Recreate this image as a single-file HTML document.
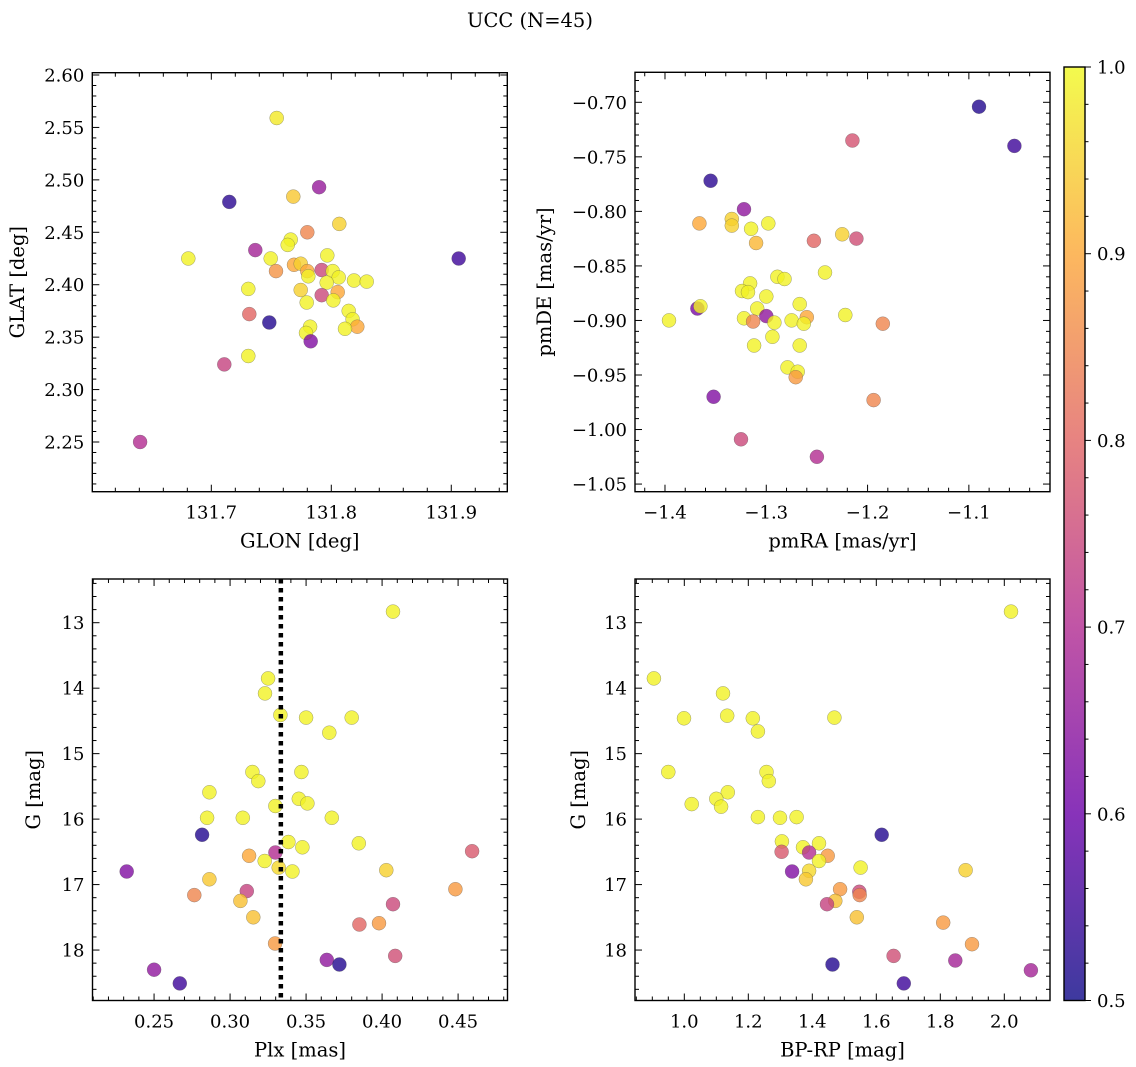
<!DOCTYPE html>
<html><head><meta charset="utf-8"><style>
html,body{margin:0;padding:0;background:#fff;}
svg{display:block;font-family:"DejaVu Serif","Liberation Serif",serif;}
</style></head><body>
<svg id="fig" width="1136" height="1067" viewBox="0 0 1136 1067" xmlns="http://www.w3.org/2000/svg">
<defs>
<linearGradient id="plasma" x1="0" y1="1" x2="0" y2="0">
<stop offset="0" stop-color="#0d0887"/><stop offset="0.2" stop-color="#6a00a8"/><stop offset="0.4" stop-color="#b12a90"/><stop offset="0.6" stop-color="#e16462"/><stop offset="0.8" stop-color="#fca636"/><stop offset="1" stop-color="#f0f921"/>
</linearGradient>
</defs>
<text x="530" y="27" font-size="19.5" text-anchor="middle">UCC (N=45)</text>
</svg>
<script>
// Panel 1: GLON / GLAT / membership probability
const p1Lon=[131.7545,131.7898,131.715,131.7683,131.8067,131.78,131.7662,131.7637,131.7367,131.6808,131.9062,131.7495,131.7967,131.7539,131.7689,131.7745,131.78,131.7808,131.792,131.8012,131.8062,131.7962,131.8189,131.8295,131.7308,131.7745,131.8053,131.792,131.7795,131.8017,131.8145,131.7317,131.7483,131.8178,131.8217,131.8114,131.7823,131.7789,131.7828,131.7308,131.7108,131.6406];
const p1Lat=[2.559,2.493,2.479,2.484,2.458,2.450,2.443,2.438,2.433,2.425,2.425,2.425,2.428,2.413,2.419,2.420,2.413,2.408,2.414,2.413,2.407,2.402,2.404,2.403,2.396,2.395,2.393,2.390,2.383,2.385,2.375,2.372,2.364,2.367,2.360,2.358,2.360,2.354,2.346,2.332,2.324,2.250];
const p1Prob=[0.98,0.66,0.53,0.94,0.95,0.85,0.99,0.99,0.68,0.99,0.55,0.99,0.99,0.87,0.9,0.95,0.9,0.99,0.75,0.99,0.99,0.99,0.99,0.99,0.99,0.95,0.9,0.75,0.99,0.99,0.99,0.8,0.52,0.99,0.9,0.99,0.99,0.99,0.63,0.99,0.74,0.7];
// Panel 2: pmRA / pmDE
const p2Ra=[-1.322,-1.366,-1.334,-1.334,-1.315,-1.298,-1.310,-1.253,-1.225,-1.211,-1.242,-1.289,-1.282,-1.316,-1.324,-1.318,-1.300,-1.368,-1.365,-1.267,-1.309,-1.396,-1.322,-1.313,-1.300,-1.292,-1.275,-1.260,-1.263,-1.222,-1.185,-1.294,-1.312,-1.267,-1.279,-1.269,-1.271,-1.352,-1.194,-1.090,-1.055,-1.215,-1.355,-1.325,-1.250];
const p2De=[-0.798,-0.811,-0.807,-0.813,-0.816,-0.811,-0.829,-0.827,-0.821,-0.825,-0.856,-0.860,-0.862,-0.866,-0.873,-0.874,-0.878,-0.889,-0.887,-0.885,-0.889,-0.900,-0.898,-0.901,-0.896,-0.902,-0.900,-0.897,-0.903,-0.895,-0.903,-0.915,-0.923,-0.923,-0.943,-0.947,-0.952,-0.970,-0.973,-0.704,-0.740,-0.735,-0.772,-1.009,-1.025];
const p2Prob=[0.65,0.9,0.95,0.95,0.99,0.99,0.92,0.8,0.95,0.76,0.99,0.99,0.99,0.99,0.99,0.99,0.99,0.62,0.99,0.99,0.99,0.99,0.99,0.85,0.65,0.99,0.99,0.9,0.99,0.99,0.85,0.99,0.99,0.99,0.99,0.99,0.88,0.63,0.85,0.52,0.55,0.77,0.53,0.75,0.7];
// Panel 3: Plx / G
const p3Plx=[0.4072,0.325,0.323,0.3331,0.35,0.380,0.3653,0.3147,0.3186,0.3469,0.2864,0.3298,0.3452,0.3509,0.2849,0.3084,0.3669,0.2816,0.3384,0.3476,0.3847,0.3298,0.3125,0.3228,0.332,0.341,0.4028,0.4592,0.232,0.2864,0.311,0.2765,0.4482,0.3068,0.4072,0.3153,0.3851,0.398,0.3296,0.3636,0.3719,0.4086,0.25,0.2669];
const p3G=[12.83,13.85,14.08,14.41,14.45,14.45,14.68,15.28,15.42,15.28,15.59,15.80,15.69,15.76,15.98,15.98,15.98,16.24,16.35,16.43,16.37,16.51,16.56,16.64,16.74,16.80,16.78,16.49,16.80,16.92,17.10,17.16,17.07,17.25,17.30,17.50,17.61,17.59,17.90,18.15,18.22,18.09,18.30,18.51];
const p3Prob=[0.99,0.99,0.99,0.99,0.99,0.99,0.99,0.99,0.99,0.99,0.99,0.99,0.99,0.99,0.99,0.99,0.99,0.52,0.99,0.99,0.99,0.7,0.9,0.99,0.96,0.99,0.95,0.78,0.63,0.94,0.74,0.85,0.88,0.93,0.75,0.93,0.8,0.88,0.88,0.65,0.52,0.76,0.65,0.55];
// Panel 4: BP-RP / G
const p4Col=[2.021,0.905,1.121,0.999,1.134,1.214,1.230,1.469,0.950,1.257,1.264,1.136,1.100,1.115,1.023,1.230,1.299,1.351,1.617,1.305,1.371,1.421,1.304,1.390,1.448,1.421,1.551,1.390,1.337,1.380,1.879,1.487,1.547,1.548,1.472,1.446,1.539,1.809,1.899,1.654,1.847,1.463,1.686,2.083];
const p4G=[12.83,13.85,14.08,14.46,14.42,14.46,14.66,14.45,15.28,15.28,15.42,15.59,15.69,15.81,15.77,15.97,15.98,15.97,16.24,16.34,16.43,16.37,16.50,16.51,16.56,16.64,16.74,16.79,16.80,16.92,16.78,17.07,17.11,17.16,17.25,17.30,17.50,17.58,17.91,18.09,18.16,18.22,18.51,18.31];
const p4Prob=[0.99,0.99,0.99,0.99,0.99,0.99,0.99,0.99,0.99,0.99,0.99,0.99,0.99,0.99,0.99,0.99,0.99,0.99,0.52,0.99,0.99,0.99,0.78,0.7,0.88,0.99,0.99,0.96,0.63,0.94,0.95,0.88,0.75,0.85,0.93,0.74,0.93,0.88,0.88,0.76,0.68,0.52,0.55,0.68];
const plxLine=[0.3334];
const cbTicks=[0.5,0.6,0.7,0.8,0.9,1.0];

const NS="http://www.w3.org/2000/svg";
const svg=document.getElementById('fig');
function mk(tag,attrs,parent){const e=document.createElementNS(NS,tag);for(const k in attrs)e.setAttribute(k,attrs[k]);(parent||svg).appendChild(e);return e;}
const stops=[[0,[13,8,135]],[0.2,[106,0,168]],[0.4,[177,42,144]],[0.6,[225,100,98]],[0.8,[252,166,54]],[1,[240,249,33]]];
function plasma(p){let t=Math.max(0,Math.min(1,(p-0.5)/0.5));for(let i=1;i<stops.length;i++){if(t<=stops[i][0]){const a=stops[i-1],b=stops[i];const f=(t-a[0])/(b[0]-a[0]);const c=a[1].map((v,j)=>Math.round(v+(b[1][j]-v)*f));return 'rgb('+c.join(',')+')';}}return 'rgb(240,249,33)';}
function fmt(v,d){let s=v.toFixed(d);if(v<0)s='\u2212'+s.slice(1);return s;}

function panel(cfg){
  const g=mk('g',{});
  
  
  const X=v=>cfg.px0+(v-cfg.x0)/(cfg.x1-cfg.x0)*(cfg.px1-cfg.px0);
  const Y=v=>cfg.inv? cfg.py0+(v-cfg.y0)/(cfg.y1-cfg.y0)*(cfg.py1-cfg.py0) : cfg.py1-(v-cfg.y0)/(cfg.y1-cfg.y0)*(cfg.py1-cfg.py0);
  for(let i=0;i<cfg.xs.length;i++){
    const c=mk('circle',{cx:X(cfg.xs[i]).toFixed(1),cy:Y(cfg.ys[i]).toFixed(1),r:7,fill:plasma(cfg.ps[i]),'fill-opacity':0.8,stroke:'#555','stroke-width':0.4,'stroke-opacity':0.7},g);
    
    
  }
  if(cfg.vline){const vx=X(cfg.vline);const l=mk('line',{x1:vx,x2:vx,y1:cfg.py0,y2:cfg.py1,stroke:'#000','stroke-width':4.5,'stroke-dasharray':'4.5 4.5'},g);
    
    }
  const tk=mk('g',{stroke:'#000','stroke-width':1},g);
  const eps=1e-9;
  const xmin=Math.min(cfg.x0,cfg.x1),xmax=Math.max(cfg.x0,cfg.x1);
  for(let v=Math.ceil(xmin/cfg.xmin-eps)*cfg.xmin;v<=xmax+eps;v+=cfg.xmin){
    const x=X(v);const major=Math.abs(v/cfg.xmaj-Math.round(v/cfg.xmaj))<1e-6;const L=major?7:4;
    mk('line',{x1:x,x2:x,y1:cfg.py1,y2:cfg.py1-L},tk);mk('line',{x1:x,x2:x,y1:cfg.py0,y2:cfg.py0+L},tk);
    if(major){const t=mk('text',{x:x,y:cfg.py1+27,'font-size':18,'text-anchor':'middle',stroke:'none',fill:'#000'},g);t.textContent=fmt(v,cfg.xd);
      
      }
  }
  const ymin=Math.min(cfg.y0,cfg.y1),ymax=Math.max(cfg.y0,cfg.y1);
  for(let v=Math.ceil(ymin/cfg.ymin-eps)*cfg.ymin;v<=ymax+eps;v+=cfg.ymin){
    const y=Y(v);const major=Math.abs(v/cfg.ymaj-Math.round(v/cfg.ymaj))<1e-6;const L=major?7:4;
    mk('line',{x1:cfg.px0,x2:cfg.px0+L,y1:y,y2:y},tk);mk('line',{x1:cfg.px1,x2:cfg.px1-L,y1:y,y2:y},tk);
    if(major){const t=mk('text',{x:cfg.px0-8,y:y+6.5,'font-size':18,'text-anchor':'end',stroke:'none',fill:'#000'},g);t.textContent=fmt(v,cfg.yd);
      
      }
  }
  const fr=mk('rect',{x:cfg.px0,y:cfg.py0,width:cfg.px1-cfg.px0,height:cfg.py1-cfg.py0,fill:'none',stroke:'#000','stroke-width':1.4},g);
  
  
  const xl=mk('text',{x:(cfg.px0+cfg.px1)/2,y:cfg.py1+56,'font-size':19.5,'text-anchor':'middle'},g);xl.textContent=cfg.xlabel;
  
  
  const yx=cfg.ylx,yy=(cfg.py0+cfg.py1)/2;
  const yl=mk('text',{x:yx,y:yy,'font-size':19.5,'text-anchor':'middle',transform:'rotate(-90 '+yx+' '+yy+')'},g);yl.textContent=cfg.ylabel;
  
  
}

panel({name:'glon-glat-panel',xs:p1Lon,ys:p1Lat,ps:p1Prob,px0:92.3,px1:507.3,py0:72.7,py1:491.7,x0:131.6008,x1:131.9467,y0:2.2026,y1:2.6022,xmaj:0.1,xmin:0.02,ymaj:0.05,ymin:0.01,xd:1,yd:2,xlabel:'GLON [deg]',ylabel:'GLAT [deg]',ylx:24});
panel({name:'proper-motion-panel',xs:p2Ra,ys:p2De,ps:p2Prob,px0:635,px1:1050,py0:72.3,py1:491.7,x0:-1.4296,x1:-1.0199,y0:-1.057,y1:-0.6725,xmaj:0.1,xmin:0.02,ymaj:0.05,ymin:0.01,xd:1,yd:2,xlabel:'pmRA [mas/yr]',ylabel:'pmDE [mas/yr]',ylx:551});
panel({name:'plx-g-panel',xs:p3Plx,ys:p3G,ps:p3Prob,px0:92.5,px1:507.5,py0:579,py1:1000.5,x0:0.2095,x1:0.4825,y0:12.3325,y1:18.7706,inv:true,xmaj:0.05,xmin:0.01,ymaj:1,ymin:0.2,xd:2,yd:0,xlabel:'Plx [mas]',ylabel:'G [mag]',ylx:40,vline:plxLine[0]});
panel({name:'cmd-panel',xs:p4Col,ys:p4G,ps:p4Prob,px0:635,px1:1050,py0:579,py1:1000.5,x0:0.8459,x1:2.1428,y0:12.3325,y1:18.7706,inv:true,xmaj:0.2,xmin:0.05,ymaj:1,ymin:0.2,xd:1,yd:0,xlabel:'BP-RP [mag]',ylabel:'G [mag]',ylx:585});

const cb=mk('g',{});


const cbx0=1064,cbx1=1085,cby0=67,cby1=1000.5;
mk('rect',{x:cbx0,y:cby0,width:cbx1-cbx0,height:cby1-cby0,fill:'url(#plasma)','fill-opacity':0.8},cb);
const CY=v=>cby1-(v-0.5)/0.5*(cby1-cby0);
for(let v=0.5;v<=1.0001;v+=0.02){const y=CY(v);const major=Math.abs(v*10-Math.round(v*10))<1e-6;
  mk('line',{x1:cbx1,x2:cbx1+(major?6:3.5),y1:y,y2:y,stroke:'#000','stroke-width':1},cb);}
cbTicks.forEach(v=>{const t=mk('text',{x:cbx1+12,y:CY(v)+6.5,'font-size':18},cb);t.textContent=v.toFixed(1);
  
  });
mk('rect',{x:cbx0,y:cby0,width:cbx1-cbx0,height:cby1-cby0,fill:'none',stroke:'#000','stroke-width':1.4},cb);
</script>
</body></html>
